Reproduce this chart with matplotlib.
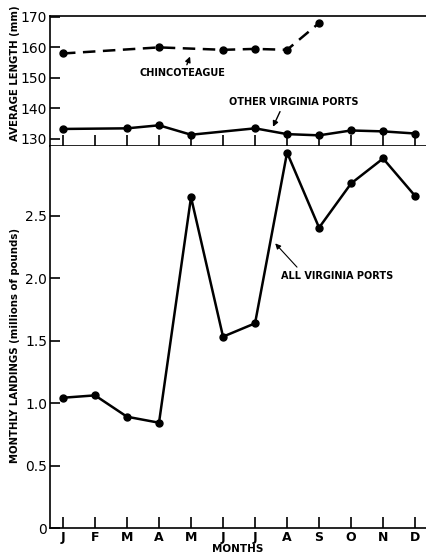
import numpy as np
import matplotlib
matplotlib.use('Agg')
import matplotlib.pyplot as plt

months = ['J', 'F', 'M', 'A', 'M', 'J', 'J', 'A', 'S', 'O', 'N', 'D']

# average length (mm)
chinco_idx = [0, 3, 5, 6, 7, 8]
chinco_len = [158.0, 160.0, 159.2, 159.5, 159.2, 168.0]

other_idx = [0, 2, 3, 4, 6, 7, 8, 9, 10, 11]
other_len = [133.2, 133.4, 134.4, 131.3, 133.4, 131.5, 131.1, 132.7, 132.4, 131.7]

# monthly landings (millions of pounds)
landings = [1.044, 1.063, 0.892, 0.844, 2.65, 1.533, 1.64, 3.007, 2.406, 2.76, 2.96, 2.66]

plt.rcParams['font.family'] = ['DejaVu Sans']

fig = plt.figure(figsize=(4.26, 5.53), dpi=100)
ax1 = fig.add_axes([0.117, 0.736, 0.883, 0.235])
ax2 = fig.add_axes([0.117, 0.045, 0.883, 0.691])

x = np.arange(12)
xlim = (-0.41, 11.34)
arrow = dict(arrowstyle='-|>', color='black', lw=1, shrinkA=0, shrinkB=0, mutation_scale=8)

# top panel
ax1.plot(chinco_idx, chinco_len, color='black', lw=1.8, ls=(0, (5, 3)),
         marker='o', ms=5)
ax1.plot(other_idx, other_len, color='black', lw=1.8, marker='o', ms=5)
ax1.set_xlim(*xlim)
ax1.set_ylim(127.6, 170.3)
ax1.set_yticks([130, 140, 150, 160, 170])
ax1.set_xticks(x)
ax1.set_xticklabels([])
ax1.spines['right'].set_visible(False)
ax1.tick_params(axis='y', direction='in', length=7, width=1.2, labelsize=10, pad=2)
ax1.tick_params(axis='x', direction='in', length=8, width=1.2)
for s in ['left', 'top', 'bottom']:
    ax1.spines[s].set_linewidth(1.2)

ax1.text(3.73, 151.6, 'CHINCOTEAGUE', ha='center', va='center', fontsize=7, fontweight='bold')
ax1.annotate('', xy=(3.97, 157.0), xytext=(3.87, 154.3), arrowprops=arrow)
ax1.text(7.22, 142.1, 'OTHER VIRGINIA PORTS', ha='center', va='center', fontsize=7,
         fontweight='bold')
ax1.annotate('', xy=(6.56, 133.9), xytext=(6.78, 138.9), arrowprops=arrow)

# bottom panel
ax2.plot(x, landings, color='black', lw=1.8, marker='o', ms=5)
ax2.set_xlim(*xlim)
ax2.set_ylim(0, 3.06)
ax2.set_yticks([0, 0.5, 1.0, 1.5, 2.0, 2.5])
ax2.set_yticklabels(['0', '0.5', '1.0', '1.5', '2.0', '2.5'])
ax2.set_xticks(x)
ax2.set_xticklabels(months, fontweight='bold')
ax2.spines['right'].set_visible(False)
ax2.spines['top'].set_visible(False)
ax2.tick_params(axis='y', direction='in', length=7, width=1.2, labelsize=10, pad=2)
ax2.tick_params(axis='x', direction='in', length=8, width=1.2, labelsize=9, pad=2)
for s in ['left', 'bottom']:
    ax2.spines[s].set_linewidth(1.2)
ax2.set_xlabel('MONTHS', fontsize=7.5, fontweight='bold', labelpad=0)

ax2.text(8.56, 2.02, 'ALL VIRGINIA PORTS', ha='center', va='center', fontsize=7,
         fontweight='bold')
ax2.annotate('', xy=(6.63, 2.28), xytext=(7.31, 2.09),
             arrowprops=dict(arrow, lw=0.8))

fig.text(0.035, 0.868, 'AVERAGE LENGTH (mm)', rotation=90, ha='center', va='center',
         fontsize=7.3, fontweight='bold')
fig.text(0.035, 0.376, 'MONTHLY LANDINGS (millions of pounds)', rotation=90,
         ha='center', va='center', fontsize=7.3, fontweight='bold')

fig.savefig('out.png', dpi=100)
